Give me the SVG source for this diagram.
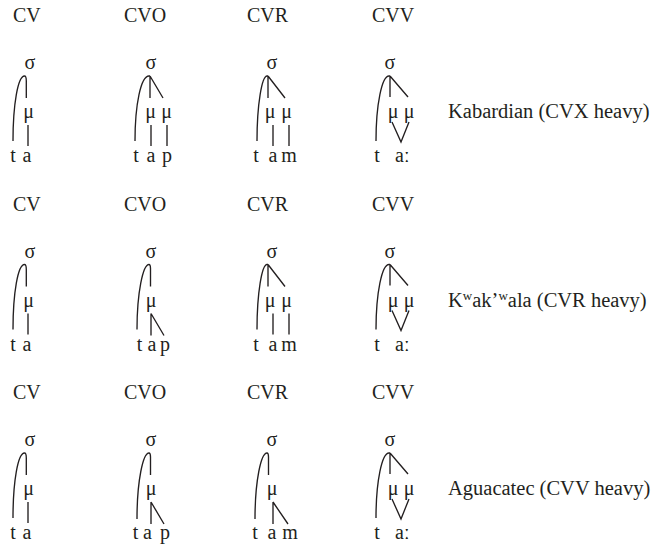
<svg xmlns="http://www.w3.org/2000/svg" width="656" height="549" viewBox="0 0 656 549">
<style>
text{font-family:"Liberation Serif","DejaVu Serif",serif;font-size:20px;fill:#231f20}
.m{text-anchor:middle}
.lab{font-size:20.5px}
.c{fill:none;stroke:#231f20;stroke-width:1.35;stroke-linecap:butt}
</style>
<rect width="656" height="549" fill="#fff"/>
<defs>
<g id="t1n">
<text class="m" x="30" y="69">σ</text>
<text class="m" x="28.5" y="118">μ</text>
<text class="m" x="13" y="162">t</text>
<text class="m" x="27" y="162">a</text>
</g>
<path id="t1c" class="c" d="M13,141 C13,104 18,76 24.5,76 C26,76 26.3,78 26.3,81 L26.3,98 M28,125 L28,146"/>
<g id="t4n">
<text class="m" x="390" y="69">σ</text>
<text class="m" x="393" y="118">μ</text>
<text class="m" x="409" y="118">μ</text>
<text class="m" x="377" y="162">t</text>
<text x="395" y="162">aː</text>
</g>
<path id="t4c" class="c" d="M376,141 C376,104 382,76 389,76 L390,76 M390,76 L390,97 M390,76 L408,97 M392,122 L401,142 L409,122"/>
</defs>

<!-- Row 1 -->
<g id="row1">
<g id="r1-headers">
<text x="13" y="22">CV</text>
<text x="124" y="22">CVO</text>
<text x="247" y="22">CVR</text>
<text x="372" y="22">CVV</text>
</g>
<g id="r1-cv"><use href="#t1n"/></g>
<g id="r1-cvo">
<text class="m" x="151" y="69">σ</text>
<text class="m" x="150.5" y="118">μ</text>
<text class="m" x="166.5" y="118">μ</text>
<text class="m" x="136" y="162">t</text>
<text class="m" x="151" y="162">a</text>
<text class="m" x="167" y="162">p</text>
</g>
<g id="r1-cvr">
<text class="m" x="272" y="69">σ</text>
<text class="m" x="270" y="118">μ</text>
<text class="m" x="286.5" y="118">μ</text>
<text class="m" x="256" y="162">t</text>
<text class="m" x="273" y="162">a</text>
<text class="m" x="289" y="162">m</text>
</g>
<g id="r1-cvv"><use href="#t4n"/></g>
<g id="r1-label"><text class="lab" x="448" y="118">Kabardian (CVX heavy)</text></g>
<g id="r1-connectors">
<use href="#t1c"/>
<path class="c" d="M135,141 C135,104 141,76 149,76 L150,76 M150,76 L150,98 M150,76 L163,98 M151,125 L151,146 M167,125 L167,146"/>
<path class="c" d="M257,141 C257,104 262,76 267,76 L268,76 M268,76 L268,98 M268,76 L285,98 M273,125 L273,146 M289,125 L289,146"/>
<use href="#t4c"/>
</g>
</g>

<!-- Row 2 -->
<g id="row2" transform="translate(0,188.5)">
<g id="r2-headers">
<text x="13" y="22">CV</text>
<text x="124" y="22">CVO</text>
<text x="247" y="22">CVR</text>
<text x="372" y="22">CVV</text>
</g>
<g id="r2-cv"><use href="#t1n"/></g>
<g id="r2-cvo">
<text class="m" x="151" y="69">σ</text>
<text class="m" x="151" y="118">μ</text>
<text class="m" x="139.5" y="162">t</text>
<text class="m" x="152" y="162">a</text>
<text class="m" x="165" y="162">p</text>
</g>
<g id="r2-cvr">
<text class="m" x="272" y="69">σ</text>
<text class="m" x="270" y="118">μ</text>
<text class="m" x="286.5" y="118">μ</text>
<text class="m" x="256" y="162">t</text>
<text class="m" x="273" y="162">a</text>
<text class="m" x="289" y="162">m</text>
</g>
<g id="r2-cvv"><use href="#t4n"/></g>
<g id="r2-label"><text class="lab" x="448" y="118">K<tspan font-size="13" dy="-7">w</tspan><tspan dy="7">ak’</tspan><tspan font-size="13" dy="-7">w</tspan><tspan dy="7">ala (CVR heavy)</tspan></text></g>
<g id="r2-connectors">
<use href="#t1c"/>
<path class="c" d="M137,141 C137,104 143,76 149,76 Q150.5,76 150.5,80 L150.5,98 M151,125 L151,147 M151,125 L164,147"/>
<path class="c" d="M257,141 C257,104 262,76 267,76 L268,76 M268,76 L268,98 M268,76 L285,98 M273,125 L273,146 M289,125 L289,146"/>
<use href="#t4c"/>
</g>
</g>

<!-- Row 3 -->
<g id="row3" transform="translate(0,377)">
<g id="r3-headers">
<text x="13" y="22">CV</text>
<text x="124" y="22">CVO</text>
<text x="247" y="22">CVR</text>
<text x="372" y="22">CVV</text>
</g>
<g id="r3-cv"><use href="#t1n"/></g>
<g id="r3-cvo">
<text class="m" x="151" y="69">σ</text>
<text class="m" x="151" y="118">μ</text>
<text class="m" x="135.5" y="162">t</text>
<text class="m" x="147.5" y="162">a</text>
<text class="m" x="165" y="162">p</text>
</g>
<g id="r3-cvr">
<text class="m" x="272" y="69">σ</text>
<text class="m" x="272" y="118">μ</text>
<text class="m" x="255" y="162">t</text>
<text class="m" x="272" y="162">a</text>
<text class="m" x="290" y="162">m</text>
</g>
<g id="r3-cvv"><use href="#t4n"/></g>
<g id="r3-label"><text class="lab" x="448" y="118">Aguacatec (CVV heavy)</text></g>
<g id="r3-connectors">
<use href="#t1c"/>
<path class="c" d="M137,142 C137,104 143,76 149,76 Q150.5,76 150.5,80 L150.5,98 M151,125 L151,147 M151,125 L164,147"/>
<path class="c" d="M255,142 C255,104 261,76 267,76 Q268.5,76 268.5,80 L268.5,98 M273,125 L273,147 M273,125 L288,147"/>
<use href="#t4c"/>
</g>
</g>
</svg>
